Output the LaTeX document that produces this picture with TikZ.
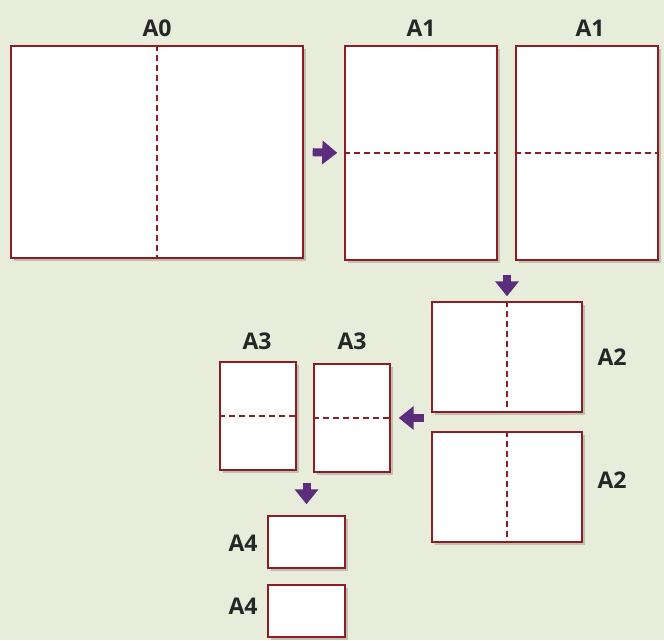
\documentclass[tikz,border=0pt]{standalone}
\usepackage{fontspec}
\setsansfont{Open Sans}
\usetikzlibrary{arrows.meta,shadows,calc}
\definecolor{bgc}{RGB}{232,236,218}
\definecolor{edge}{RGB}{140,30,35}
\definecolor{arrc}{RGB}{92,45,125}
\tikzset{
  sheet/.style={draw=edge, line width=1.4pt, fill=white, inner sep=0pt,
    drop shadow={shadow xshift=3pt, shadow yshift=-3pt, fill=black, opacity=0.18}},
  fold/.style={draw=edge, line width=1.5pt, dash pattern=on 6pt off 4pt},
  lab/.style={font=\sffamily\bfseries\fontsize{23}{25}\selectfont, text=black!85, inner sep=0pt},
  arr/.style={draw=arrc, line width=8pt, -{Triangle[width=23pt,length=15pt]}}
}
\begin{document}
\begin{tikzpicture}[x=1pt,y=-1pt]
\fill[bgc] (0,0) rectangle (664,640);
\useasboundingbox (0,0) rectangle (664,640);
% sheets
\node[sheet, minimum width=292pt, minimum height=212pt] (a0) at (157,152) {};
\node[sheet, minimum width=152pt, minimum height=214pt] (a1l) at (421,153) {};
\node[sheet, minimum width=142pt, minimum height=214pt] (a1r) at (587,153) {};
\node[sheet, minimum width=150pt, minimum height=110pt] (a2t) at (507,357) {};
\node[sheet, minimum width=150pt, minimum height=110pt] (a2b) at (507,487) {};
\node[sheet, minimum width=76pt, minimum height=108pt] (a3l) at (258,416) {};
\node[sheet, minimum width=76pt, minimum height=108pt] (a3r) at (352,418) {};
\node[sheet, minimum width=77pt, minimum height=52pt] (a4t) at (306.5,542) {};
\node[sheet, minimum width=77pt, minimum height=52pt] (a4b) at (306.5,611) {};
% fold lines
\draw[fold] (a0.north) -- (a0.south);
\draw[fold] (a1l.west) -- (a1l.east);
\draw[fold] (a1r.west) -- (a1r.east);
\draw[fold] (a2t.north) -- (a2t.south);
\draw[fold] (a2b.north) -- (a2b.south);
\draw[fold] (a3l.west) -- (a3l.east);
\draw[fold] (a3r.west) -- (a3r.east);
% labels
\node[lab] (la0) at (157,28) {A0};
\node[lab] (la1l) at (421,28) {A1};
\node[lab] (la1r) at (590,28) {A1};
\node[lab] (la2t) at (612,357) {A2};
\node[lab] (la2b) at (612,480) {A2};
\node[lab] (la3l) at (257,341) {A3};
\node[lab] (la3r) at (352,341) {A3};
\node[lab] (la4t) at (243,543) {A4};
\node[lab] (la4b) at (243,606) {A4};
% arrows
\draw[arr, shorten <=9pt, shorten >=7pt] (a0.east) -- (a1l.west);
\draw[arr, shorten <=14pt, shorten >=5pt] (a2t.north |- a1r.south) -- (a2t.north);
\draw[arr, shorten <=7pt, shorten >=8pt] (a3r.east -| a2t.west) -- (a3r.east);
\draw[arr, shorten <=10pt, shorten >=11pt] (a4t.north |- a3r.south) -- (a4t.north);
\end{tikzpicture}
\end{document}
